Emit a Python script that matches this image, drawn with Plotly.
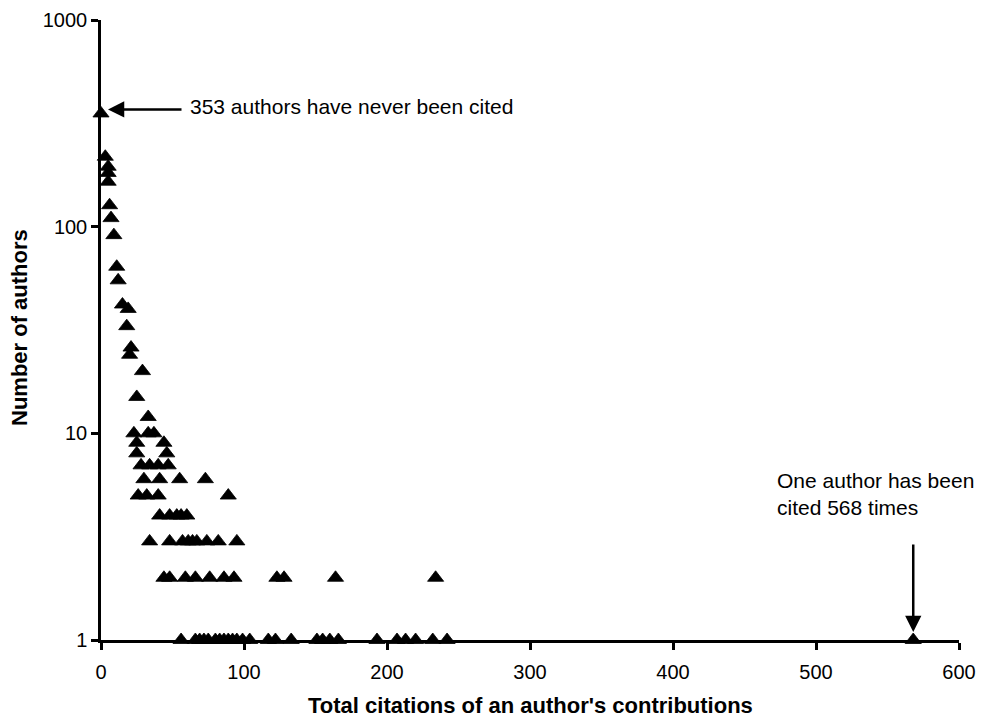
import math
import plotly.graph_objects as go

# Total citations of an author's contributions (x) and number of authors (y)
citations = [
    0, 3, 5, 5, 5, 6, 7, 9, 11, 12, 15, 19, 18, 21, 20, 29, 25, 33,
    23, 33, 37,
    25, 44,
    25, 46,
    28, 34, 40, 47,
    30, 41, 55, 73,
    26, 32, 40, 89,
    41, 48, 53, 56, 60,
    34, 48, 57, 61, 64, 67, 74, 82, 95,
    44, 48, 59, 66, 76, 86, 93, 123, 128, 164, 234,
    56, 66, 69, 72, 75, 80, 83, 86, 89, 92, 95, 99, 104, 117, 122, 133,
    151, 155, 160, 166, 193, 207, 213, 220, 232, 242, 568,
]
authors = [
    353, 218, 195, 182, 165, 127, 110, 91, 64, 55, 42, 40, 33, 26, 24, 20, 15, 12,
    10, 10, 10,
    9, 9,
    8, 8,
    7, 7, 7, 7,
    6, 6, 6, 6,
    5, 5, 5, 5,
    4, 4, 4, 4, 4,
    3, 3, 3, 3, 3, 3, 3, 3, 3,
    2, 2, 2, 2, 2, 2, 2, 2, 2, 2, 2,
    1, 1, 1, 1, 1, 1, 1, 1, 1, 1, 1, 1, 1, 1, 1, 1,
    1, 1, 1, 1, 1, 1, 1, 1, 1, 1, 1,
]

x_ticks = [0, 100, 200, 300, 400, 500, 600]
y_ticks = [1, 10, 100, 1000]
y_tick_labels = ["1", "10", "100", "1000"]

x_title = "Total citations of an author's contributions"
y_title = "Number of authors"
note_never = "353 authors have never been cited"
note_max = "One author has been<br>cited 568 times"
max_cited = 568
never_cited = 353

FONT = "Arial, Liberation Sans, Helvetica, sans-serif"

fig = go.Figure()
fig.add_trace(go.Scatter(
    x=citations, y=authors, mode="markers",
    marker=dict(symbol="triangle-up", size=14, color="black",
                line=dict(width=0.8, color="black")),
    cliponaxis=False, showlegend=False,
))

fig.update_layout(
    width=986, height=720,
    margin=dict(l=93, r=35, t=12, b=88),
    paper_bgcolor="white", plot_bgcolor="white",
    font=dict(family=FONT, size=20, color="black"),
    xaxis=dict(
        range=[0, 600], tickvals=x_ticks, showgrid=False, zeroline=False,
        showline=True, linecolor="black", linewidth=2.5,
        ticks="outside", ticklen=7, tickwidth=2.5, tickcolor="black",
        tickfont=dict(size=20), automargin=False, ticklabelstandoff=5,
    ),
    yaxis=dict(
        type="log", range=[0, 3], tickvals=y_ticks, ticktext=y_tick_labels,
        showgrid=False, zeroline=False,
        showline=True, linecolor="black", linewidth=2.5,
        ticks="outside", ticklen=7, tickwidth=2.5, tickcolor="black",
        tickfont=dict(size=20), automargin=False,
    ),
)

# axis titles
fig.add_annotation(
    x=0.5, y=0, xref="paper", yref="paper", text="<b>" + x_title + "</b>",
    showarrow=False, xanchor="center", yanchor="middle", yshift=-65,
    font=dict(size=22),
)
fig.add_annotation(
    x=0, y=0.5, xref="paper", yref="paper", text="<b>" + y_title + "</b>",
    showarrow=False, xanchor="center", yanchor="middle", xshift=-82, yshift=2,
    textangle=-90, font=dict(size=22),
)

fig.add_annotation(
    x=0, y=math.log10(never_cited), xref="x", yref="y", text="",
    showarrow=True, ax=82, ay=0, arrowhead=2, arrowsize=1.3, arrowwidth=2.5,
    arrowcolor="black", standoff=7, yshift=4,
)
fig.add_annotation(
    x=0, y=math.log10(never_cited), xref="x", yref="y", text=note_never,
    showarrow=False, xanchor="left", yanchor="middle", xshift=87, yshift=7,
    font=dict(size=21),
)
fig.add_annotation(
    x=max_cited, y=0, xref="x", yref="y", text="",
    showarrow=True, ax=0, ay=-97, arrowhead=2, arrowsize=1.3, arrowwidth=2.5,
    arrowcolor="black", standoff=8,
)
fig.add_annotation(
    x=471, y=0.706, xref="x", yref="y", text=note_max,
    showarrow=False, xanchor="left", yanchor="middle", align="left",
    font=dict(size=21),
)

fig.write_html("out.html")
